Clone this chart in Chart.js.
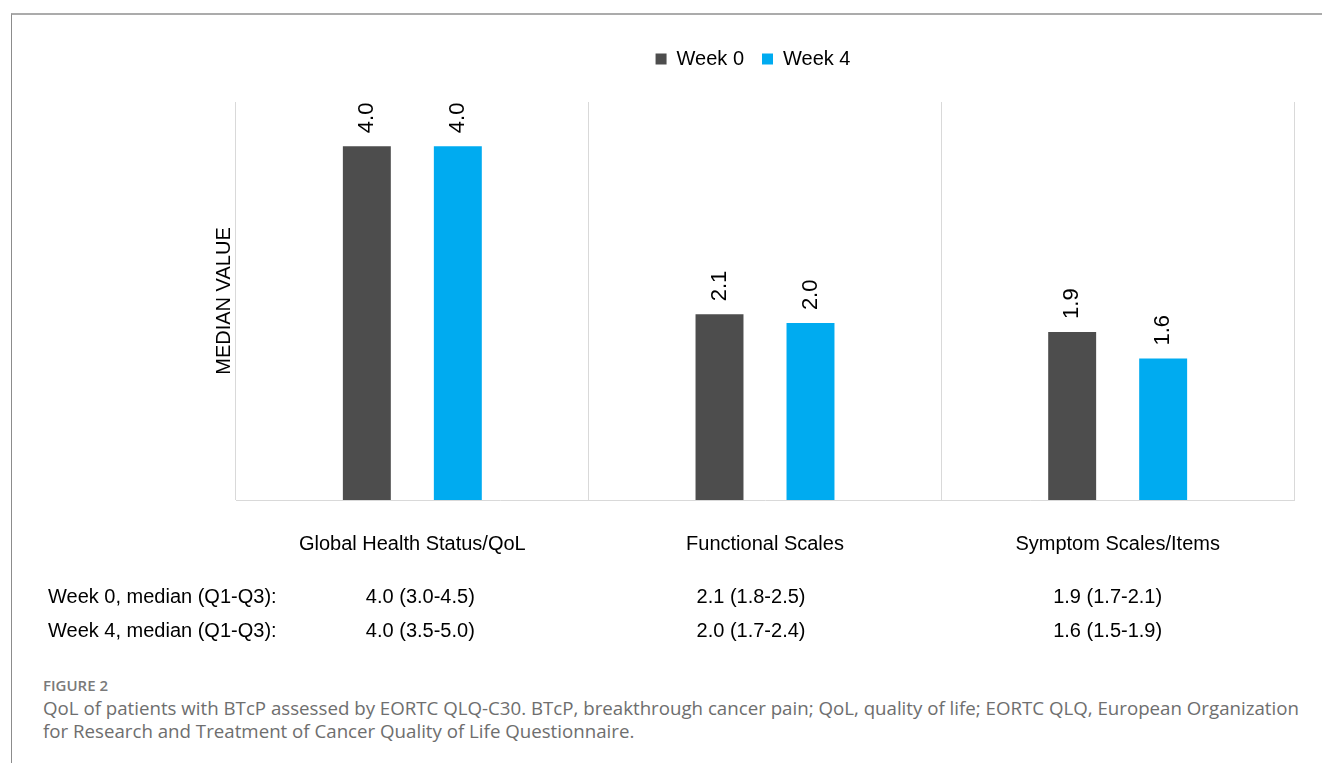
<!DOCTYPE html>
<html>
<head>
<meta charset="utf-8">
<script src="https://cdn.jsdelivr.net/npm/chart.js@4.4.1/dist/chart.umd.min.js"></script>
<style>
  html, body { margin: 0; padding: 0; background: #fff; }
  body { width: 1322px; height: 763px; position: relative; overflow: hidden; }
  #frame {
    position: absolute; left: 11px; top: 13px; right: 0; bottom: 0;
    border-top: 2px solid #ababab; border-left: 1px solid #8c8c8c;
  }
  #chart { position: absolute; left: 0; top: 0; }
  #caption {
    position: absolute; left: 43px; top: 675px;
    font-family: "Open Sans", sans-serif; color: #6e6e6e; white-space: nowrap;
  }
  #caption .fig { font-size: 15px; font-weight: 600; color: #7a7a7a; line-height: 20px; }
  #caption .txt { font-size: 18.7px; line-height: 23px; margin-top: 1px; }
</style>
</head>
<body>
<div id="frame"></div>
<canvas id="chart" width="1322" height="660"></canvas>
<div id="caption">
  <div class="fig">FIGURE 2</div>
  <div class="txt">QoL of patients with BTcP assessed by EORTC QLQ-C30. BTcP, breakthrough cancer pain; QoL, quality of life; EORTC QLQ, European Organization<br>for Research and Treatment of Cancer Quality of Life Questionnaire.</div>
</div>
<script>
const categories = ['Global Health Status/QoL', 'Functional Scales', 'Symptom Scales/Items'];
const seriesNames = ['Week 0', 'Week 4'];
const week0 = [4.0, 2.1, 1.9];
const week4 = [4.0, 2.0, 1.6];

// table under the chart: median (Q1-Q3)
const rowLabels = ['Week 0, median (Q1-Q3):', 'Week 4, median (Q1-Q3):'];
const week0Cells = ['4.0 (3.0-4.5)', '2.1 (1.8-2.5)', '1.9 (1.7-2.1)'];
const week4Cells = ['4.0 (3.5-5.0)', '2.0 (1.7-2.4)', '1.6 (1.5-1.9)'];

const FONT = '"Liberation Sans", Arial, sans-serif';
const padTop = 31;
const legendH = 71;
// the table cells in the figure sit a little off the category centres
const cellShift = [8, -14, -10];

const legendGap = {
  id: 'legendGap',
  beforeInit(chart) {
    const fit = chart.legend.fit;
    chart.legend.fit = function() {
      fit.bind(chart.legend)();
      this.height = legendH;
    };
  }
};

const barLabels = {
  id: 'barLabels',
  afterDatasetsDraw(chart) {
    const ctx = chart.ctx;
    ctx.save();
    ctx.font = '22px ' + FONT;
    ctx.fillStyle = '#000';
    ctx.textAlign = 'left';
    ctx.textBaseline = 'middle';
    chart.data.datasets.forEach((ds, i) => {
      chart.getDatasetMeta(i).data.forEach((bar, j) => {
        ctx.save();
        ctx.translate(bar.x, bar.y - 13);
        ctx.rotate(-Math.PI / 2);
        ctx.fillText(ds.data[j].toFixed(1), 0, 0);
        ctx.restore();
      });
    });
    ctx.restore();
  }
};

const table = {
  id: 'table',
  afterDraw(chart) {
    const ctx = chart.ctx;
    const x = chart.scales.x;
    const rows = [week0Cells, week4Cells];
    const rowY = [597, 631];
    ctx.save();
    ctx.font = '20px ' + FONT;
    ctx.fillStyle = '#000';
    ctx.textBaseline = 'middle';
    rows.forEach((cells, r) => {
      ctx.textAlign = 'left';
      ctx.fillText(rowLabels[r], 48, rowY[r]);
      ctx.textAlign = 'center';
      cells.forEach((c, i) => ctx.fillText(c, x.getPixelForValue(i) + cellShift[i], rowY[r]));
    });
    ctx.restore();
  }
};

new Chart(document.getElementById('chart'), {
  type: 'bar',
  data: {
    labels: categories,
    datasets: [
      { label: seriesNames[0], data: week0, backgroundColor: '#4d4d4d' },
      { label: seriesNames[1], data: week4, backgroundColor: '#00abf0' }
    ]
  },
  options: {
    responsive: false,
    animation: false,
    categoryPercentage: 0.516,
    barPercentage: 0.527,
    layout: {
      padding: { left: 212, right: 28, top: padTop, bottom: 72 }
    },
    plugins: {
      legend: {
        position: 'top',
        labels: {
          boxWidth: 11,
          boxHeight: 11,
          padding: 18,
          color: '#000',
          font: { family: FONT, size: 20 }
        }
      },
      tooltip: { enabled: false }
    },
    scales: {
      x: {
        grid: { offset: true, color: '#d9d9d9', drawTicks: false },
        border: { color: '#d9d9d9' },
        ticks: { color: '#000', padding: 32, font: { family: FONT, size: 20 } }
      },
      y: {
        min: 0,
        max: 4.5,
        ticks: { display: false },
        grid: { display: false, drawTicks: false },
        border: { display: false },
        title: {
          display: true,
          text: 'MEDIAN VALUE',
          color: '#000',
          padding: 0,
          font: { family: FONT, size: 20 }
        }
      }
    }
  },
  plugins: [legendGap, barLabels, table]
});
</script>
</body>
</html>
